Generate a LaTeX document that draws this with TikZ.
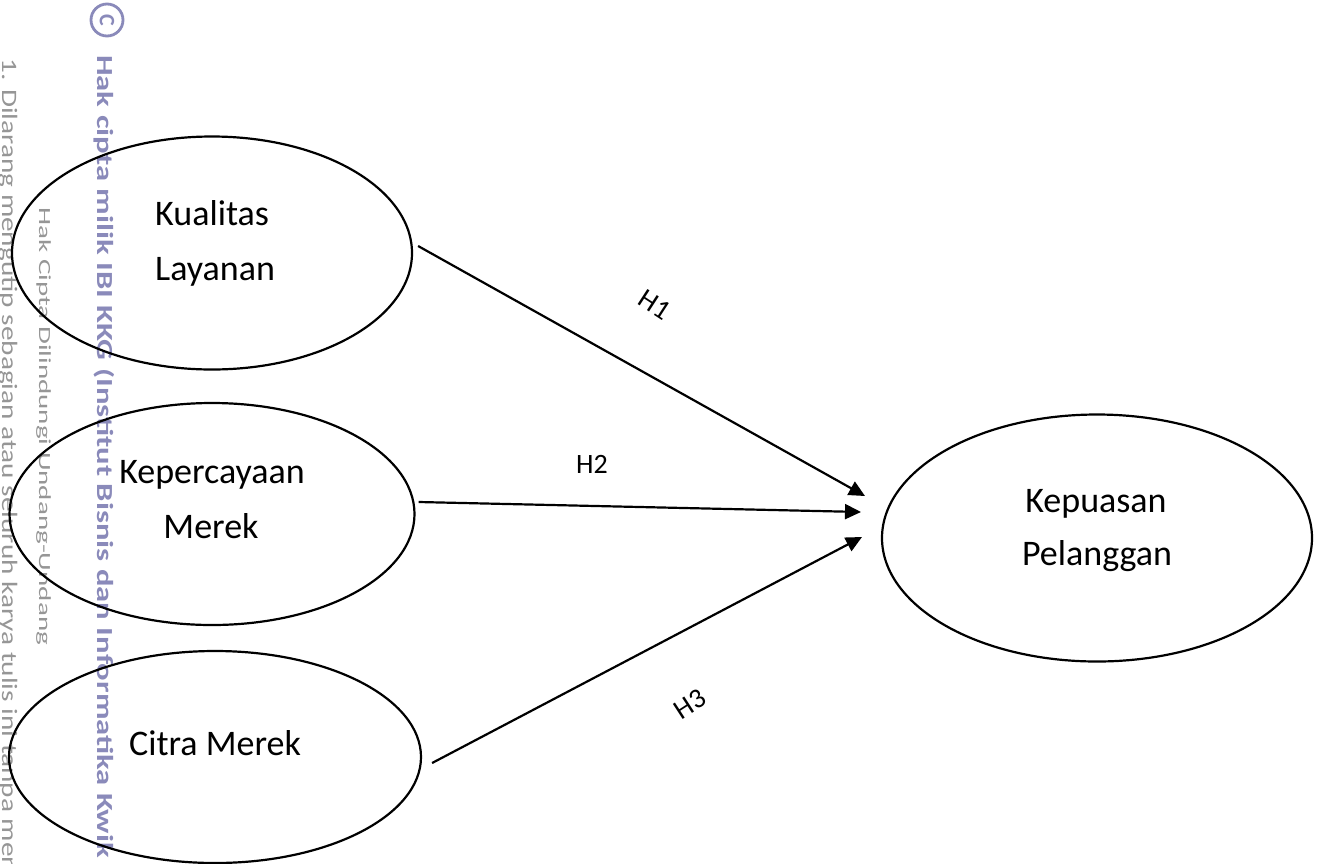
\documentclass[tikz,border=0pt]{standalone}
\usepackage{fontspec}
\setmainfont{Carlito}
\newfontfamily\wmboldfont[FakeStretch=1.42]{Carlito}
\newfontfamily\wmgrayAfont[FakeStretch=1.33]{Carlito}
\newfontfamily\wmgrayBfont[FakeStretch=1.71]{Carlito}
\usetikzlibrary{shapes.geometric,arrows.meta}
\definecolor{wmpurple}{RGB}{138,138,186}
\definecolor{wmgray}{RGB}{150,150,150}
\begin{document}
\begin{tikzpicture}[x=1pt,y=-1pt,
  var/.style={draw, ellipse, line width=2.2pt, inner sep=0pt},
  lbl/.style={font=\fontsize{36}{55}\selectfont, inner sep=0pt},
  hyp/.style={font=\fontsize{28}{34}\selectfont, inner sep=0pt},
  link/.style={line width=2.2pt, -{Triangle[length=16pt,width=15pt]}},
  wm/.style={rotate=-90, anchor=base west, inner sep=0pt}]
\useasboundingbox[fill=white] (0,0) rectangle (1317,863);

% watermark
\node[draw=wmpurple, circle, line width=2.8pt, minimum size=32pt, inner sep=0pt,
      text=wmpurple, font=\bfseries\fontsize{22}{22}\selectfont, rotate=-90] (cc) at (107,20) {C};
\node[wm, text=wmpurple, font=\wmboldfont\bfseries\fontsize{23}{23}\selectfont] (wm1) at (97,55)
  {Hak cipta milik IBI KKG (Institut Bisnis dan Informatika Kwik};
\node[wm, text=wmgray, font=\wmgrayAfont\fontsize{22}{22}\selectfont] (wm2) at (2,58)
  {1. Dilarang mengutip sebagian atau seluruh karya tulis ini tanpa men};
\node[wm, text=wmgray, font=\wmgrayBfont\fontsize{17}{17}\selectfont] (wm3) at (39,207)
  {Hak Cipta Dilindungi Undang-Undang};

% variables
\node[var, minimum width=400pt, minimum height=233pt] (kl) at (212,253) {};
\node[var, minimum width=405pt, minimum height=222pt] (kk) at (212,514) {};
\node[var, minimum width=412pt, minimum height=212pt] (cm) at (215,757) {};
\node[var, minimum width=430pt, minimum height=247pt] (kp) at (1097,538) {};

\node[lbl, anchor=base west] (klA) at (155,225) {Kualitas};
\node[lbl, anchor=base west] (klB) at (155,280) {Layanan};
\node[lbl, anchor=base] (kkA) at (212,483) {Kepercayaan};
\node[lbl, anchor=base] (kkB) at (211,538) {Merek};
\node[lbl, anchor=base] (cmA) at (215,755) {Citra Merek};
\node[lbl, anchor=base] (kpA) at (1096,512) {Kepuasan};
\node[lbl, anchor=base] (kpB) at (1097,565) {Pelanggan};

% arrow ends
\coordinate (t1) at (865,496);
\coordinate (t2) at (861,512);
\coordinate (t3) at (862,537);

\draw[link] ([shift={(5pt,7pt)}]kl.east) -- (t1);
\draw[link] ([shift={(3pt,12pt)}]kk.east) -- (t2);
\draw[link] ([shift={(10pt,-6pt)}]cm.east) -- (t3);

\node[hyp, rotate=-33] (h1) at (655,305) {H1};
\node[hyp] (h2) at (592,464) {H2};
\node[hyp, rotate=33] (h3) at (690,704) {H3};
\end{tikzpicture}
\end{document}
